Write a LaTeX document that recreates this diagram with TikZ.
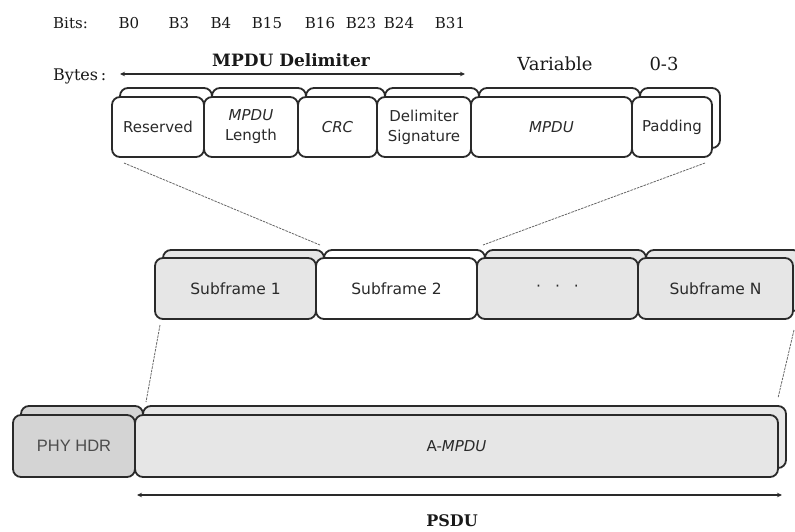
\documentclass[tikz,border=0pt]{standalone}
\usepackage{fontspec}
\setmainfont{DejaVu Serif}
\setsansfont{DejaVu Sans}
\newfontfamily\hdrfont{Liberation Sans}
\usetikzlibrary{arrows.meta}

\definecolor{edge}{HTML}{2A2A2A}
\definecolor{lightfill}{HTML}{E6E6E6}
\definecolor{darkfill}{HTML}{D4D4D4}

\tikzset{
  cell/.style={draw=edge, line width=1.8pt, rounded corners=8pt, inner sep=0pt},
  front/.style={cell, align=center, text=edge,
    font=\sffamily\fontsize{15}{20}\selectfont},
  toprow/.style={minimum height=60pt},
  midrow/.style={minimum height=61pt, font=\sffamily\fontsize{15.5}{19}\selectfont},
  botrow/.style={minimum height=62pt},
  hdr/.style={inner sep=0pt, text=black!90, font=\fontsize{15}{18}\selectfont},
  bighdr/.style={inner sep=0pt, text=black!90, font=\fontsize{17}{20}\selectfont},
  span/.style={line width=1.1pt, draw=edge, {Stealth[length=5pt,width=4.5pt]}-{Stealth[length=5pt,width=4.5pt]}},
  zoomline/.style={draw=black!60, line width=0.8pt, dash pattern=on 2.5pt off 1pt}
}

\begin{document}
\begin{tikzpicture}[x=1pt,y=-1pt]
\useasboundingbox (0,0) rectangle (795,531);

% ---------- header texts ----------
\node[hdr, anchor=west] (bits) at (53,23) {Bits:};
\node[hdr] (b0)  at (129,23) {B0};
\node[hdr] (b3)  at (179,23) {B3};
\node[hdr] (b4)  at (221,23) {B4};
\node[hdr] (b15) at (267,23) {B15};
\node[hdr] (b16) at (320,23) {B16};
\node[hdr] (b23) at (361,23) {B23};
\node[hdr] (b24) at (399,23) {B24};
\node[hdr] (b31) at (450,23) {B31};

\node[bighdr, font=\bfseries\fontsize{17}{20}\selectfont] (delim) at (291,60) {MPDU Delimiter};
\node[hdr, font=\fontsize{16}{18}\selectfont, anchor=west] (bytes) at (53,76) {Bytes\,:};
\coordinate (dl) at (120,74);
\coordinate (dr) at (465,74);
\draw[span] (dl) -- (dr);
\node[bighdr, font=\fontsize{18}{20}\selectfont] (var) at (555,64) {Variable};
\node[bighdr, font=\fontsize{18}{20}\selectfont] (pad3) at (664,64) {0-3};

% ---------- MPDU subframe fields ----------
\foreach \cx/\w in {158/92, 251/94, 337.5/79, 424/94, 551.5/161, 672/80}
  \node[cell, fill=white, toprow, minimum width=\w] at (\cx+8,118) {};
\node[front, fill=white, toprow, minimum width=92] (res) at (158,127) {Reserved};
\node[front, fill=white, toprow, minimum width=94] (len) at (251,127) {\textit{MPDU}\\Length};
\node[front, fill=white, toprow, minimum width=79] (crc) at (337.5,127) {\textit{CRC}};
\node[front, fill=white, toprow, minimum width=94] (sig) at (424,127) {Delimiter\\Signature};
\node[front, fill=white, toprow, minimum width=161] (mpdu) at (551.5,127) {\textit{MPDU}};
\node[front, fill=white, toprow, minimum width=80] (pad) at (672,127) {Padding};

% ---------- A-MPDU subframes ----------
\foreach \cx/\w/\f in {235.5/161/lightfill, 396.5/161/white, 557.5/161/lightfill, 715.5/155/lightfill}
  \node[cell, fill=\f, midrow, minimum width=\w] at (\cx+8,280.5) {};
\node[front, midrow, fill=lightfill, minimum width=161] (sf1) at (235.5,288.5) {Subframe 1};
\node[front, midrow, fill=white, minimum width=161] (sf2) at (396.5,288.5) {Subframe 2};
\node[front, midrow, fill=lightfill, minimum width=161] (sfd) at (557.5,288.5) {·\hspace{14pt}·\hspace{14pt}·};
\node[front, midrow, fill=lightfill, minimum width=155] (sfn) at (715.5,288.5) {Subframe N};

% ---------- PPDU ----------
\node[cell, fill=darkfill, botrow, minimum width=122] at (82,437) {};
\node[cell, fill=lightfill, botrow, minimum width=643] at (464.5,437) {};
\node[front, botrow, fill=darkfill, minimum width=122,
      font=\hdrfont\fontsize{16.5}{19}\selectfont, text=black!70] (phy) at (74,446) {PHY HDR};
\node[front, botrow, fill=lightfill, minimum width=643] (ampdu) at (456.5,446) {A-\textit{MPDU}};

\coordinate (pl) at (137,495);
\coordinate (pr) at (782,495);
\draw[span] (pl) -- (pr);
\node[bighdr, font=\bfseries\fontsize{16}{18}\selectfont] (psdu) at (452,520.5) {PSDU};

% ---------- expansion lines ----------
\coordinate (t1) at (124,163);
\coordinate (t2) at (320,245);
\coordinate (t3) at (705,163);
\coordinate (t4) at (483,245);
\coordinate (m1) at (160,325);
\coordinate (m2) at (146,402);
\coordinate (m3) at (794,330);
\coordinate (m4) at (778,398);
\draw[zoomline] (t1) -- (t2);
\draw[zoomline] (t3) -- (t4);
\draw[zoomline] (m1) -- (m2);
\draw[zoomline] (m3) -- (m4);
\end{tikzpicture}
\end{document}
